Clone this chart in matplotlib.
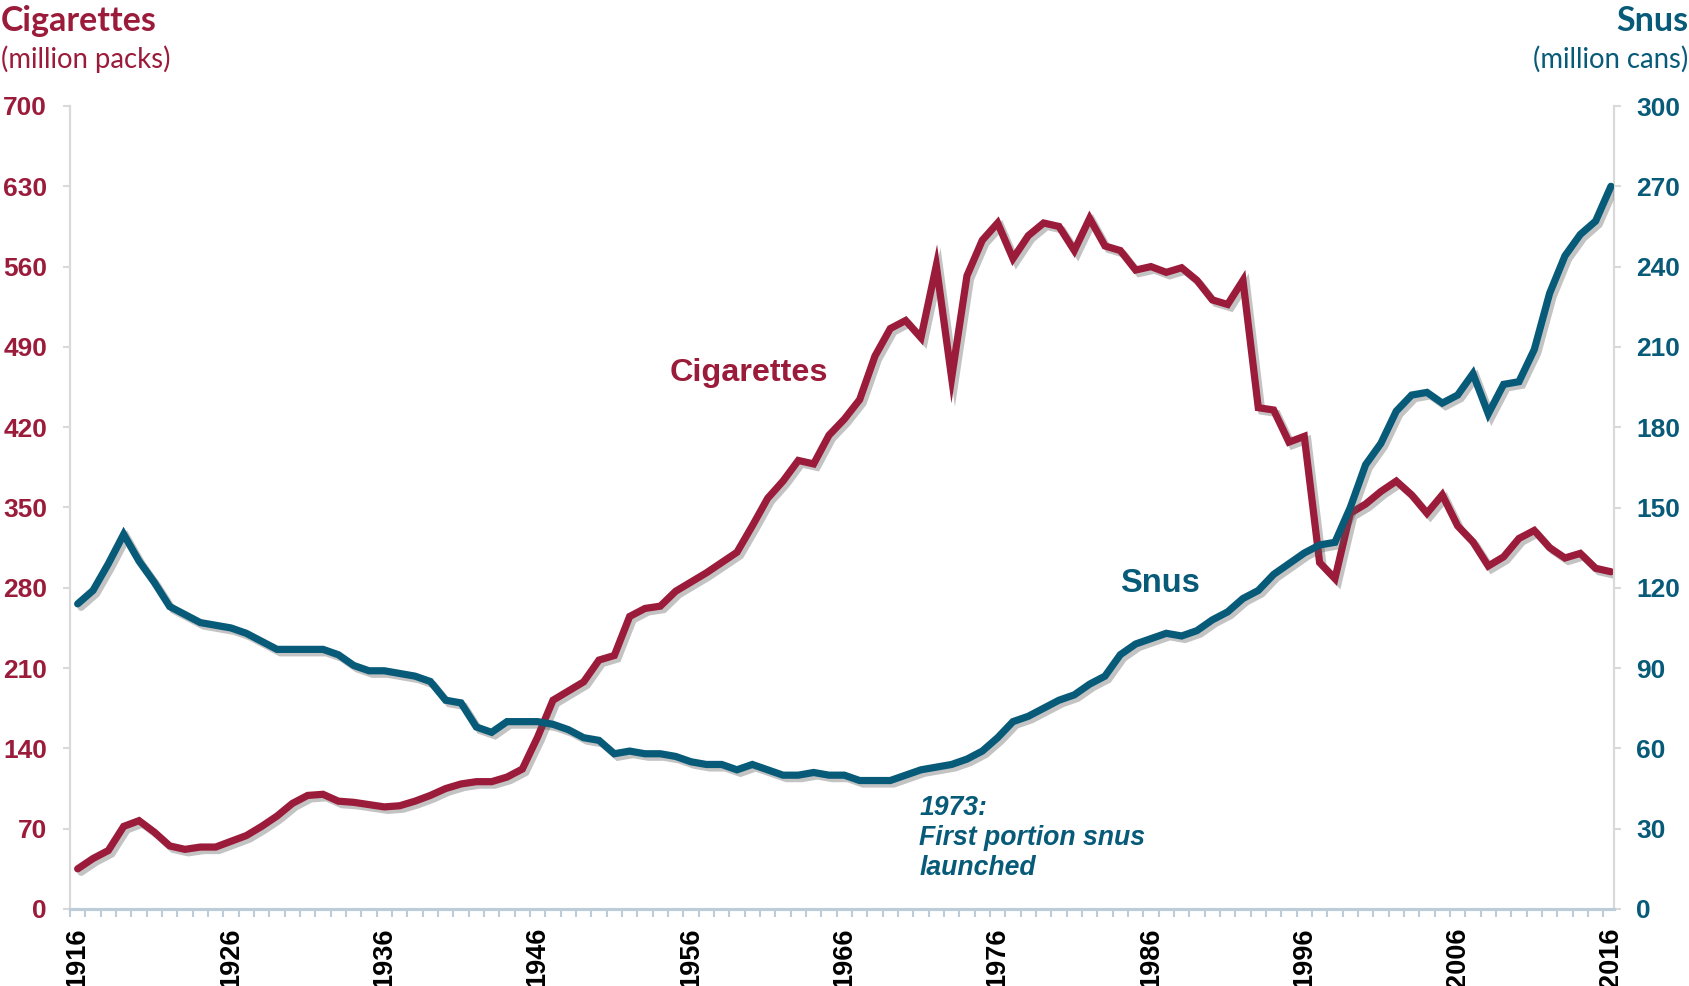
import matplotlib

matplotlib.use("Agg")
import matplotlib.pyplot as plt
import matplotlib.patheffects as pe
from matplotlib.ticker import FixedLocator

W, H = 1690, 986

CIG = "#9B1B3A"
SNUS = "#075A78"
SPINE = "#D9D9D9"
XAXIS = "#BCCCD8"

years = list(range(1916, 2017))

cigarettes = [
    35, 44, 51, 72, 77, 67, 55, 52, 54, 54,
    59, 64, 72, 81, 92, 99, 100, 94, 93, 91,
    89, 90, 94, 99, 105, 109, 111, 111, 115, 122,
    150, 182, 190, 198, 217, 221, 255, 262, 264, 277,
    285, 293, 302, 311, 334, 358, 373, 391, 388, 413,
    427, 444, 482, 506, 513, 498, 561, 463, 552, 583,
    598, 567, 587, 598, 595, 574, 602, 578, 574, 557,
    560, 555, 559, 548, 531, 527, 548, 437, 435, 407,
    412, 302, 288, 345, 353, 364, 373, 361, 345, 361,
    334, 320, 299, 307, 323, 330, 315, 306, 310, 297,
    294,
]

snus = [
    114, 119, 129, 140, 130, 122, 113, 110, 107, 106,
    105, 103, 100, 97, 97, 97, 97, 95, 91, 89,
    89, 88, 87, 85, 78, 77, 68, 66, 70, 70,
    70, 69, 67, 64, 63, 58, 59, 58, 58, 57,
    55, 54, 54, 52, 54, 52, 50, 50, 51, 50,
    50, 48, 48, 48, 50, 52, 53, 54, 56, 59,
    64, 70, 72, 75, 78, 80, 84, 87, 95, 99,
    101, 103, 102, 104, 108, 111, 116, 119, 125, 129,
    133, 136, 137, 150, 166, 174, 186, 192, 193, 189,
    192, 200, 185, 196, 197, 209, 230, 244, 252, 257,
    270,
]

cig_ticks = list(range(0, 701, 70))
snus_ticks = list(range(0, 301, 30))
year_labels = list(range(1916, 2017, 10))

fig = plt.figure(figsize=(W / 100, H / 100), dpi=100)
ax = fig.add_axes([70 / W, 1 - 909 / H, (1614 - 70) / W, (909 - 106) / H])
ax2 = ax.twinx()

shadow = [pe.SimpleLineShadow(offset=(2.5, -2.5), shadow_color="#555555", alpha=0.35),
          pe.Normal()]
ax.plot(years, cigarettes, color=CIG, lw=5.2, solid_joinstyle="miter",
        solid_capstyle="round", path_effects=shadow, zorder=3)
ax2.plot(years, snus, color=SNUS, lw=5.2, solid_joinstyle="miter",
         solid_capstyle="round", path_effects=shadow, zorder=3)

ax.set_xlim(1915.5, 2016.2)
ax.set_ylim(0, 700)
ax2.set_ylim(0, 300)

# axes styling
for a in (ax, ax2):
    a.spines["top"].set_visible(False)
    a.spines["left"].set_color(SPINE)
    a.spines["right"].set_color(SPINE)
    a.spines["left"].set_linewidth(1.5)
    a.spines["right"].set_linewidth(1.5)
    a.spines["bottom"].set_color(XAXIS)
    a.spines["bottom"].set_linewidth(2.2)

ax.set_yticks(cig_ticks)
ax2.set_yticks(snus_ticks)
ax.tick_params(axis="y", colors=SPINE, length=5, width=1.5, pad=11.5,
               labelcolor=CIG, labelsize=19)
ax2.tick_params(axis="y", colors=SPINE, length=5, width=1.5, pad=11,
                labelcolor=SNUS, labelsize=19)
for lab in ax.get_yticklabels() + ax2.get_yticklabels():
    lab.set_fontfamily("Liberation Sans")
    lab.set_fontweight("bold")

ax.xaxis.set_major_locator(FixedLocator(year_labels))
ax.xaxis.set_minor_locator(FixedLocator([y + 0.5 for y in range(1915, 2016)]))
ax.tick_params(axis="x", which="major", length=0, pad=13, labelsize=19.5,
               labelrotation=90, labelcolor="black")
ax.tick_params(axis="x", which="minor", length=6, width=1.5, color=XAXIS)
for lab in ax.get_xticklabels():
    lab.set_fontfamily("Liberation Sans")
    lab.set_fontweight("bold")

# in-chart labels
ax.text(1959.8, 467, "Cigarettes", color=CIG, fontsize=23.3, fontweight="bold",
        family="Liberation Sans", ha="center", va="center")
ax2.text(1986.6, 121.7, "Snus", color=SNUS, fontsize=23.5, fontweight="bold",
         family="Liberation Sans", ha="center", va="center")
ax.text(1970.9, 99, "1973:\nFirst portion snus\nlaunched", color=SNUS,
        fontsize=19.2, fontweight="bold", fontstyle="italic", family="Liberation Sans",
        ha="left", va="top", linespacing=1.2)

# axis titles
fig.text(1 / W, 1 - 31 / H, "Cigarettes", color=CIG, fontsize=24.5,
         fontweight="bold", family="Lato", ha="left", va="baseline")
fig.text(1 / W, 1 - 68 / H, "(million packs)", color=CIG, fontsize=19.8,
         family="Lato", ha="left", va="baseline")
fig.text(1688 / W, 1 - 31 / H, "Snus", color=SNUS, fontsize=24.5,
         fontweight="bold", family="Lato", ha="right", va="baseline")
fig.text(1688 / W, 1 - 68 / H, "(million cans)", color=SNUS, fontsize=19.8,
         family="Lato", ha="right", va="baseline")

fig.savefig("out.png", dpi=100, facecolor="white")
